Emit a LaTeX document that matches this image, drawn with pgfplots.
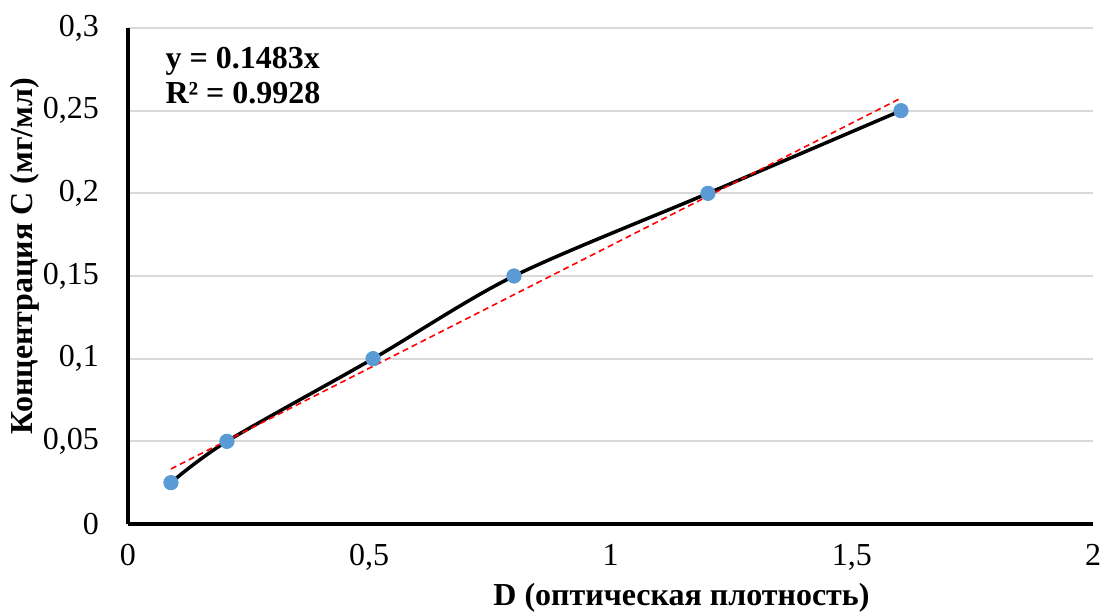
\documentclass[border=0pt]{standalone}
\usepackage{fontspec}
\setmainfont{Liberation Serif}
\usepackage{pgfplots}
\pgfplotsset{compat=1.18}
\definecolor{ptblue}{RGB}{91,155,213}
\definecolor{gridgray}{RGB}{217,217,217}
\begin{document}
\begin{tikzpicture}
\useasboundingbox (-64pt,-46pt) rectangle (488pt,262pt);
\begin{axis}[
  at={(0,0)}, anchor=south west,
  scale only axis, width=482.5pt, height=248pt,
  xmin=0, xmax=2, ymin=0, ymax=0.3,
  xtick={0,0.5,1,1.5,2}, ytick={0,0.05,0.1,0.15,0.2,0.25,0.3},
  xticklabels={0,{0,5},1,{1,5},2},
  yticklabels={0,{0,05},{0,1},{0,15},{0,2},{0,25},{0,3}},
  axis lines*=left,
  axis line style={line width=2pt, -},
  major tick length=0pt,
  ymajorgrids, grid style={gridgray, line width=0.9pt},
  tick label style={font=\fontsize{16}{19}\selectfont},
  xticklabel style={yshift=-9pt, inner sep=1pt},
  yticklabel style={xshift=-11pt},
  xlabel={\textbf{D (оптическая плотность)}},
  ylabel={\textbf{Концентрация С (мг/мл)}},
  label style={font=\fontsize{16}{19}\selectfont},
  xlabel style={at={(axis description cs:0.5736,0)}, anchor=center, yshift=-37pt, inner sep=0pt},
  ylabel style={at={(axis description cs:0,0.54)}, anchor=center, yshift=51.5pt},
  clip=false,
]
\addplot[black, line width=1.75pt, smooth] coordinates {
  (0.089,0.025) (0.205,0.05) (0.508,0.1) (0.80,0.15) (1.202,0.2) (1.602,0.25)
};
\addplot[red, line width=0.8pt, dash pattern=on 3pt off 2pt] coordinates {
  (0.089,0.0333) (1.602,0.2576)
};
\addplot[only marks, mark=*, mark size=3.6pt, color=ptblue, mark options={draw=ptblue, fill=ptblue}] coordinates {
  (0.089,0.025) (0.205,0.05) (0.508,0.1) (0.80,0.15) (1.202,0.2) (1.602,0.25)
};
\node[anchor=west, align=left, font=\fontsize{16}{17.5}\selectfont\bfseries, inner sep=0pt] at (axis cs:0.077,0.2715) {y = 0.1483x\\R² = 0.9928};
\end{axis}
\end{tikzpicture}
\end{document}
